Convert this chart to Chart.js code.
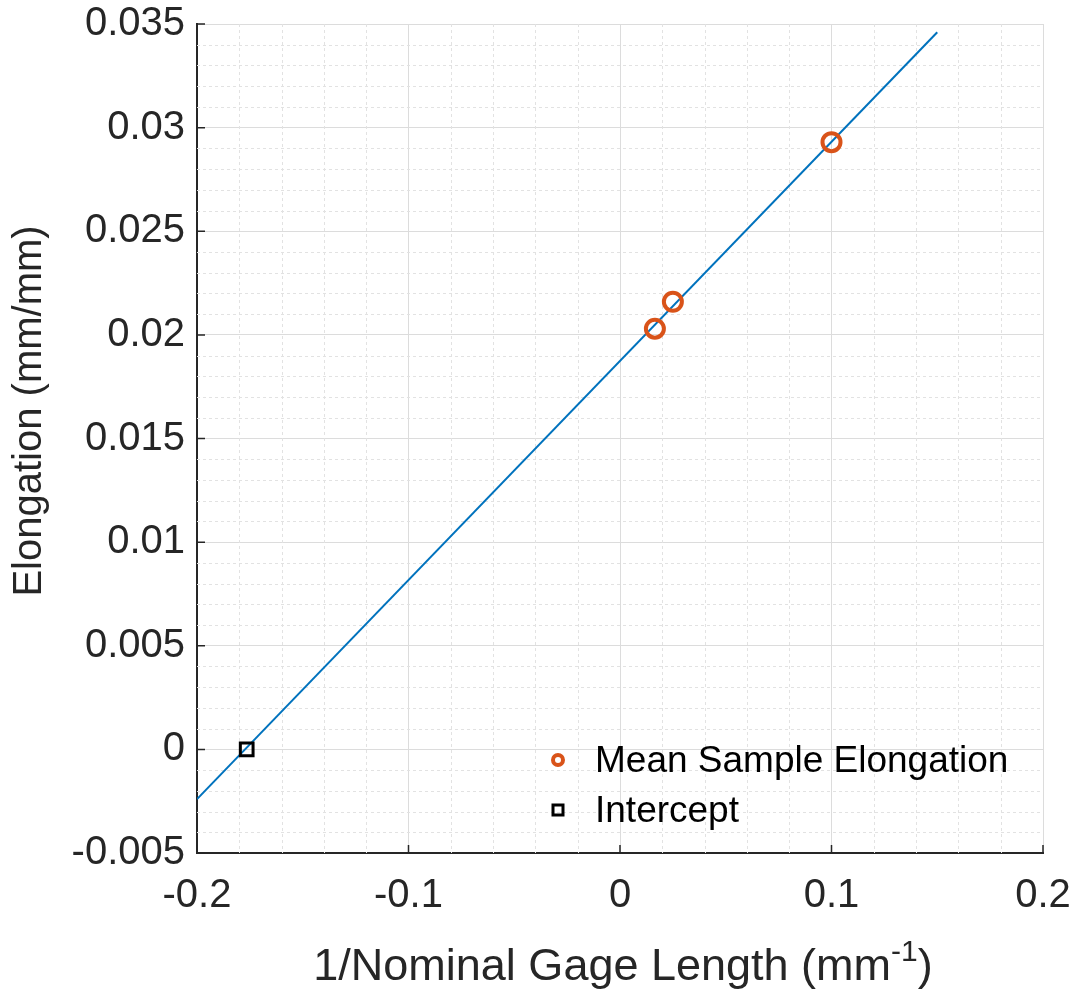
<!DOCTYPE html>
<html>
<head>
<meta charset="utf-8">
<script src="https://cdn.jsdelivr.net/npm/chart.js@4.4.1/dist/chart.umd.min.js"></script>
<style>
  body { margin: 0; background: #fff; }
  #wrap { width: 1078px; height: 991px; }
</style>
</head>
<body>
<div id="wrap"><canvas id="elongChart" width="1078" height="991"></canvas></div>
<script>
// measured sample points
const sampleX = [0.0165, 0.025, 0.1];
const sampleY = [0.0203, 0.0216, 0.0293];
// intercept
const interceptX = [-0.1765];
const interceptY = [0];
// fit line end points
const fitX = [-0.2, 0.15];
const fitY = [-0.0024, 0.0346];

const xTicks = [-0.2, -0.1, 0, 0.1, 0.2];
const yTicks = [-0.005, 0, 0.005, 0.01, 0.015, 0.02, 0.025, 0.03, 0.035];

const font = "'Liberation Sans', Arial, Helvetica, sans-serif";
const textColor = "#262626";
const orange = "#D95319";
const blue = "#0072BD";

function toPoints(xs, ys) {
    return xs.map(function(x, i) { return { x: x, y: ys[i] }; });
}

function fmt(v) {
    return String(+v.toFixed(4));
}

// minor grid (dashed) - chart.js has no minor grid of its own
const minorGrid = {
    id: "minorGrid",
    beforeDatasetsDraw(chart) {
        const ctx = chart.ctx;
        const a = chart.chartArea;
        const xs = chart.scales.x, ys = chart.scales.y;
        ctx.save();
        ctx.strokeStyle = "#e2e2e2";
        ctx.lineWidth = 1;
        ctx.setLineDash([3, 3]);
        ctx.beginPath();
        for (let i = 1; i < 20; i++) {
            if (i % 5 === 0) continue;
            const px = Math.round(xs.getPixelForValue(-0.2 + i * 0.02)) + 0.5;
            ctx.moveTo(px, a.top);
            ctx.lineTo(px, a.bottom);
        }
        for (let i = 1; i < 40; i++) {
            if (i % 5 === 0) continue;
            const py = Math.round(ys.getPixelForValue(-0.005 + i * 0.001)) + 0.5;
            ctx.moveTo(a.left, py);
            ctx.lineTo(a.right, py);
        }
        ctx.stroke();
        ctx.restore();
    }
};

// inside ticks, titles and legend drawn matlab style
const decorations = {
    id: "decorations",
    afterDraw(chart) {
        const ctx = chart.ctx;
        const a = chart.chartArea;
        const xs = chart.scales.x, ys = chart.scales.y;
        ctx.save();

        // tick marks pointing inward
        ctx.strokeStyle = textColor;
        ctx.lineWidth = 1.5;
        ctx.beginPath();
        xTicks.forEach(function(v) {
            const px = xs.getPixelForValue(v);
            ctx.moveTo(px, a.bottom);
            ctx.lineTo(px, a.bottom - 8);
        });
        yTicks.forEach(function(v) {
            const py = ys.getPixelForValue(v);
            ctx.moveTo(a.left, py);
            ctx.lineTo(a.left + 8, py);
        });
        ctx.stroke();

        // y title
        ctx.fillStyle = textColor;
        ctx.font = "40px " + font;
        ctx.textAlign = "center";
        ctx.textBaseline = "middle";
        ctx.save();
        ctx.translate(30, 411);
        ctx.rotate(-Math.PI / 2);
        ctx.fillText("Elongation (mm/mm)", 0, 0);
        ctx.restore();

        // x title with superscript
        const main = "1/Nominal Gage Length (mm";
        const sup = "-1";
        const close = ")";
        ctx.textAlign = "left";
        ctx.textBaseline = "alphabetic";
        ctx.font = "45px " + font;
        const w1 = ctx.measureText(main).width;
        const w3 = ctx.measureText(close).width;
        ctx.font = "30px " + font;
        const w2 = ctx.measureText(sup).width;
        const total = w1 + w2 + w3;
        let tx = (a.left + a.right) / 2 - total / 2 + 3;
        const base = 980;
        ctx.font = "45px " + font;
        ctx.fillText(main, tx, base);
        tx += w1;
        ctx.font = "30px " + font;
        ctx.fillText(sup, tx, base - 19);
        tx += w2;
        ctx.font = "45px " + font;
        ctx.fillText(close, tx, base);

        // legend
        ctx.font = "37px " + font;
        ctx.textBaseline = "middle";
        ctx.fillStyle = "#000";
        ctx.strokeStyle = orange;
        ctx.lineWidth = 4;
        ctx.beginPath();
        ctx.arc(558, 760, 5, 0, Math.PI * 2);
        ctx.stroke();
        ctx.fillText("Mean Sample Elongation", 595, 762);
        ctx.strokeStyle = "#000";
        ctx.lineWidth = 3;
        ctx.strokeRect(553, 805, 10, 10);
        ctx.fillText("Intercept", 595, 812);

        ctx.restore();
    }
};

function noPad(scale) {
    scale.paddingTop = 0;
    scale.paddingBottom = 0;
    scale.paddingLeft = 0;
    scale.paddingRight = 0;
}

const ctx = document.getElementById("elongChart").getContext("2d");
const chart = new Chart(ctx, {
    type: "scatter",
    data: {
        datasets: [
            {
                label: "Mean Sample Elongation",
                data: toPoints(sampleX, sampleY),
                pointStyle: "circle",
                pointRadius: 9,
                pointBorderWidth: 4,
                borderColor: orange,
                backgroundColor: "rgba(0,0,0,0)"
            },
            {
                label: "Intercept",
                data: toPoints(interceptX, interceptY),
                pointStyle: "rect",
                pointRadius: 9,
                pointBorderWidth: 3,
                borderColor: "#000",
                backgroundColor: "rgba(0,0,0,0)"
            },
            {
                label: "Fit",
                type: "line",
                data: toPoints(fitX, fitY),
                showLine: true,
                pointRadius: 0,
                borderColor: blue,
                borderWidth: 2,
                fill: false
            }
        ]
    },
    options: {
        responsive: false,
        animation: false,
        layout: { padding: { top: 24, right: 35, left: 0, bottom: 0 } },
        plugins: {
            legend: { display: false },
            tooltip: { enabled: false }
        },
        scales: {
            x: {
                type: "linear",
                min: -0.2,
                max: 0.2,
                afterBuildTicks: function(scale) {
                    scale.ticks = xTicks.map(function(v) { return { value: v }; });
                },
                afterFit: function(scale) { scale.height = 138; noPad(scale); },
                ticks: {
                    callback: fmt,
                    color: textColor,
                    font: { size: 40, family: font },
                    padding: 19,
                    maxRotation: 0
                },
                grid: { color: "#dcdcdc", lineWidth: 1, drawTicks: false },
                border: { color: textColor, width: 2 }
            },
            y: {
                type: "linear",
                min: -0.005,
                max: 0.035,
                afterBuildTicks: function(scale) {
                    scale.ticks = yTicks.map(function(v) { return { value: v }; });
                },
                afterFit: function(scale) { scale.width = 197; noPad(scale); },
                ticks: {
                    callback: fmt,
                    color: textColor,
                    font: { size: 40, family: font },
                    padding: 12
                },
                grid: { color: "#dcdcdc", lineWidth: 1, drawTicks: false },
                border: { color: textColor, width: 2 }
            }
        }
    },
    plugins: [minorGrid, decorations]
});
</script>
</body>
</html>
